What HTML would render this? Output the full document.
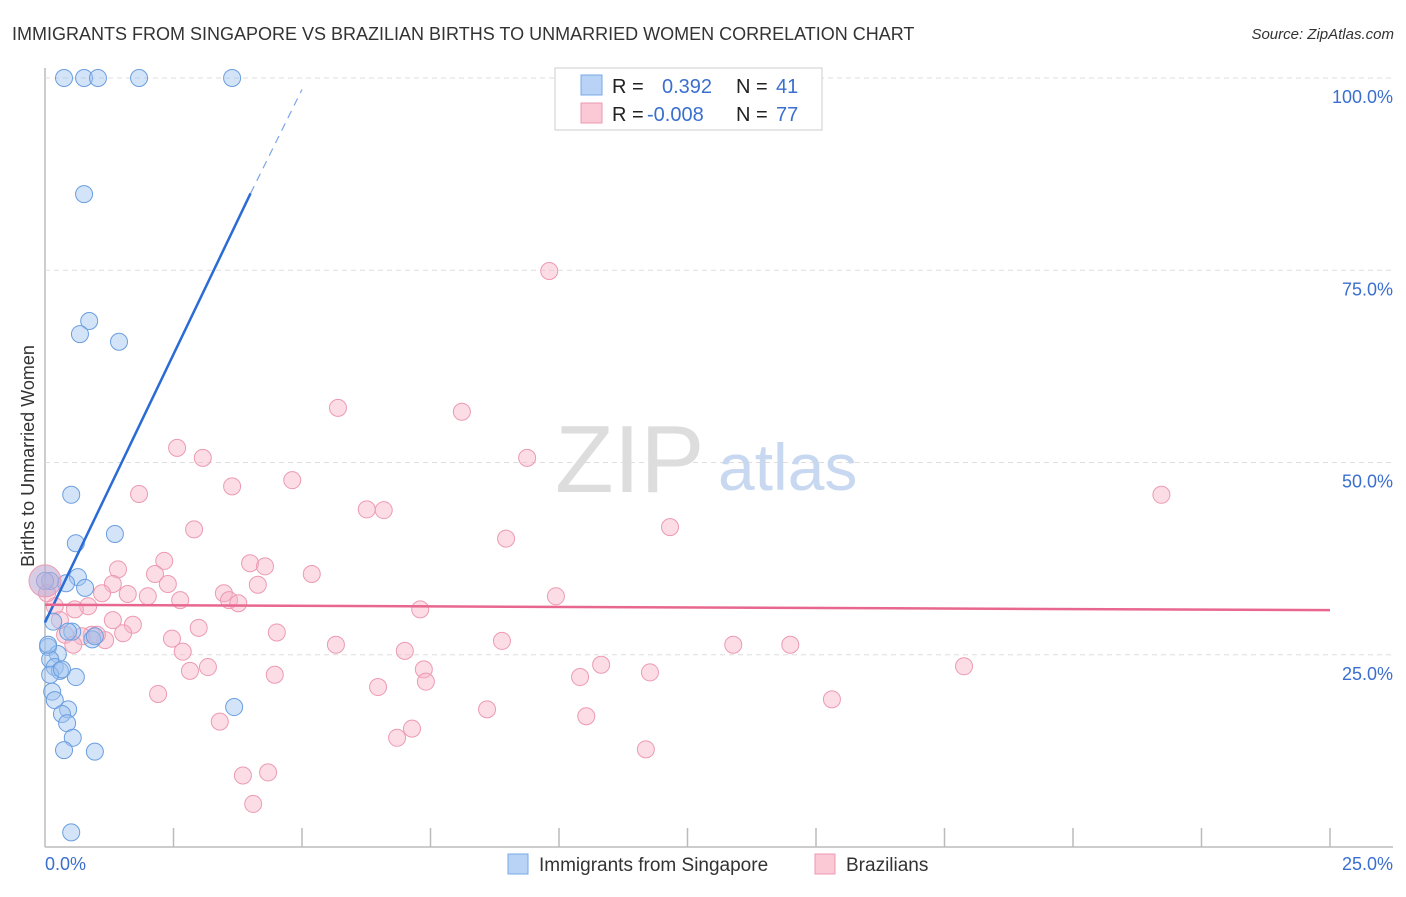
<!DOCTYPE html>
<html><head><meta charset="utf-8"><style>
body{margin:0;background:#fff;font-family:"Liberation Sans",sans-serif;}
svg text{font-family:"Liberation Sans",sans-serif;}
</style></head><body>
<svg width="1406" height="892" viewBox="0 0 1406 892">
<text x="12" y="40" font-size="18" fill="#333">IMMIGRANTS FROM SINGAPORE VS BRAZILIAN BIRTHS TO UNMARRIED WOMEN CORRELATION CHART</text>
<text x="1394" y="39" font-size="15" fill="#333" font-style="italic" text-anchor="end">Source: ZipAtlas.com</text>
<text transform="translate(34,456) rotate(-90)" font-size="18" fill="#333" text-anchor="middle">Births to Unmarried Women</text>
<g id="grid"></g>
<text x="555" y="492" font-size="96" fill="#ddd" font-family="Liberation Serif">ZIP</text>
<text x="718" y="490" font-size="66" fill="#c8d8f0">atlas</text>
<g id="pts"></g>
<g id="lines"></g>
<rect x="555" y="68" width="267" height="62" fill="#fff" stroke="#ccc"/>
<rect x="581" y="75" width="21" height="20" fill="#b8d3f5" stroke="#7aaae8"/>
<rect x="581" y="103" width="21" height="20" fill="#fbc8d6" stroke="#ee99b0"/>
<text font-size="20" fill="#222"><tspan x="612" y="93">R = </tspan><tspan x="662" fill="#3a6fcf">0.392</tspan><tspan x="736">N = </tspan><tspan x="776" fill="#3a6fcf">41</tspan>
<tspan x="612" y="121">R = </tspan><tspan x="647" fill="#3a6fcf">-0.008</tspan><tspan x="736">N = </tspan><tspan x="776" fill="#3a6fcf">77</tspan></text>
<text x="45" y="870" font-size="18" fill="#3a6fcf">0.0%</text>
<text x="1393" y="870" font-size="18" fill="#3a6fcf" text-anchor="end">25.0%</text>
<rect x="508" y="854" width="20" height="20" fill="#b8d3f5" stroke="#7aaae8"/>
<text x="539" y="871" font-size="19" fill="#333">Immigrants from Singapore</text>
<rect x="815" y="854" width="20" height="20" fill="#fbc8d6" stroke="#ee99b0"/>
<text x="846" y="871" font-size="19" fill="#333">Brazilians</text>
</svg>
<script>
const yTicks=[25,50,75,100];
const xTickCount=10;
const blueX=[0.37,0.76,1.03,1.83,3.64,0.76,0.86,0.68,1.44,0.51,1.36,0.6,0.64,0.41,0.78,0.1,0.53,0.45,0.92,0.97,0.06,0.25,0.1,0.19,0.29,0.6,0.1,0.33,0.14,0.19,0.45,0.33,0.43,0.54,0.37,0.97,3.68,0.51,0.06,0,0.16];
const blueY=[100,100,100,100,100,84.9,68.4,66.7,65.7,45.8,40.7,39.5,35.1,34.3,33.7,34.6,28,28,27,27.4,26,25.1,24.4,23.4,22.9,22.1,22.4,23.1,20.2,19.1,17.9,17.3,16.1,14.2,12.6,12.4,18.2,1.9,26.3,34.6,29.3];
const pinkX=[9.81,5.7,8.11,2.57,3.07,9.38,4.81,3.64,1.83,21.72,6.26,6.59,2.9,12.16,8.97,2.32,3.99,4.28,1.42,2.14,5.19,2.39,1.32,4.14,3.48,2.0,1.11,1.61,3.58,3.76,0.84,0.58,7.3,9.94,1.71,2.99,4.51,1.52,2.47,0.91,0.72,0.39,1.17,1.01,5.66,8.89,13.39,14.5,2.68,7.0,2.82,3.17,10.82,7.37,11.77,7.41,10.41,4.47,17.88,6.48,2.2,15.31,8.6,3.4,10.53,7.14,6.85,11.69,3.85,4.34,4.05,0.55,0.19,0.04,0.29,1.32,2.63];
const pinkY=[74.9,57.1,56.6,51.9,50.6,50.6,47.7,46.9,45.9,45.8,43.9,43.8,41.3,41.6,40.1,37.2,36.9,36.5,36.1,35.5,35.5,34.2,34.2,34.1,33.0,32.6,33.0,32.9,32.1,31.7,31.3,30.9,30.9,32.6,28.9,28.5,27.9,27.8,27.1,27.6,27.4,27.6,26.9,27.6,26.3,26.8,26.3,26.3,25.4,25.5,22.9,23.4,23.7,23.1,22.7,21.5,22.1,22.4,23.5,20.8,19.9,19.2,17.9,16.3,17.0,15.4,14.2,12.7,9.3,9.7,5.6,26.3,31.3,33.0,29.5,29.5,32.1];
const blueLine={x0:0,y0:29.2,x1:4,y1:85};
const blueDash={x1:5,y1:98.5};
const pinkLine={y0:31.5,y1:30.8};
const X=v=>45+v/25*1285, Y=v=>847-v*7.69;
const NS='http://www.w3.org/2000/svg';
function mk(t,a,p){const e=document.createElementNS(NS,t);for(const k in a)e.setAttribute(k,a[k]);p.appendChild(e);return e;}
const grid=document.getElementById('grid');
let ax=mk('line',{x1:45,y1:68,x2:45,y2:847,stroke:'#bbb','stroke-width':1.5},grid);


let bx=mk('line',{x1:45,y1:847,x2:1393,y2:847,stroke:'#bbb','stroke-width':1.5},grid);


yTicks.forEach(t=>{
 const g=mk('line',{x1:45,y1:Y(t),x2:1393,y2:Y(t),stroke:'#ddd','stroke-dasharray':'5,4'},grid);
 
 
 const l=mk('text',{x:1393,y:Y(t)+25,'font-size':18,fill:'#3a6fcf','text-anchor':'end'},grid);
 l.textContent=t.toFixed(1)+'%';
 
 
});
for(let i=1;i<=xTickCount;i++){
 const xx=X(i*2.5);
 const k=mk('line',{x1:xx,y1:828,x2:xx,y2:847,stroke:'#bbb','stroke-width':1.5},grid);
 
 
}
const pts=document.getElementById('pts');
pinkX.forEach((x,i)=>{
 const c=mk('circle',{cx:X(x),cy:Y(pinkY[i]),r:8.5,fill:'rgba(248,180,200,0.45)',stroke:'#ec9ab2','stroke-width':1},pts);
 
 
});
blueX.forEach((x,i)=>{
 const c=mk('circle',{cx:X(x),cy:Y(blueY[i]),r:8.5,fill:'rgba(160,196,240,0.45)',stroke:'#6a9ee0','stroke-width':1},pts);
 
 
});
let big=mk('circle',{cx:X(0),cy:Y(34.6),r:16,fill:'rgba(190,170,210,0.6)',stroke:'#ec9ab2'},pts);


const lines=document.getElementById('lines');
let bl=mk('line',{x1:X(blueLine.x0),y1:Y(blueLine.y0),x2:X(blueLine.x1),y2:Y(blueLine.y1),stroke:'#2a6bd6','stroke-width':2.5},lines);


let bd=mk('line',{x1:X(blueLine.x1),y1:Y(blueLine.y1),x2:X(blueDash.x1),y2:Y(blueDash.y1),stroke:'#7aa6e6','stroke-width':1.2,'stroke-dasharray':'8,6'},lines);


let pl=mk('line',{x1:X(0),y1:Y(pinkLine.y0),x2:X(25),y2:Y(pinkLine.y1),stroke:'#e8678e','stroke-width':2.5},lines);


</script>
</body></html>
